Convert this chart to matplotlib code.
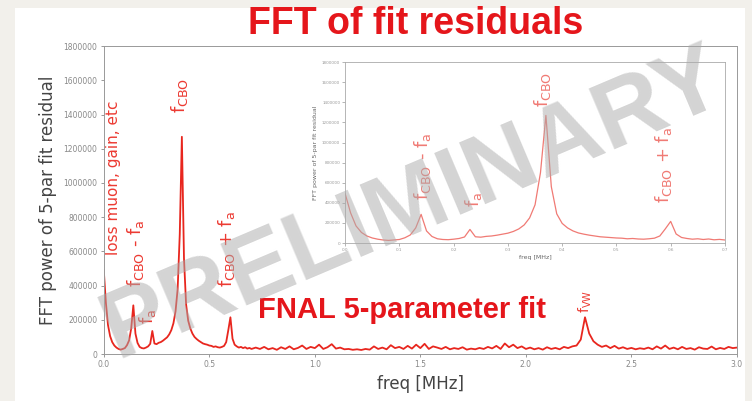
import numpy as np
import matplotlib
matplotlib.use("Agg")
import matplotlib.pyplot as plt
from matplotlib.patches import Rectangle

plt.rcParams["mathtext.default"] = "regular"

# spectrum, 0.00 - 0.70 MHz (step 0.01), power in units of 1000
freq_low = [0.00, 0.01, 0.02, 0.03, 0.04, 0.05, 0.06, 0.07, 0.08, 0.09,
            0.10, 0.11, 0.12, 0.13, 0.14, 0.15, 0.16, 0.17, 0.18, 0.19,
            0.20, 0.21, 0.22, 0.23, 0.24, 0.25, 0.26, 0.27, 0.28, 0.29,
            0.30, 0.31, 0.32, 0.33, 0.34, 0.35, 0.36, 0.37, 0.38, 0.39,
            0.40, 0.41, 0.42, 0.43, 0.44, 0.45, 0.46, 0.47, 0.48, 0.49,
            0.50, 0.51, 0.52, 0.53, 0.54, 0.55, 0.56, 0.57, 0.58, 0.59,
            0.60, 0.61, 0.62, 0.63, 0.64, 0.65, 0.66, 0.67, 0.68, 0.69, 0.70]
power_low = [490, 300, 170, 105, 70, 50, 38, 30, 26, 30,
             35, 52, 80, 150, 285, 120, 65, 42, 35, 33,
             38, 45, 60, 135, 62, 58, 66, 70, 78, 88,
             98, 115, 140, 180, 250, 380, 700, 1270, 560, 290,
             195, 150, 120, 100, 88, 78, 70, 62, 58, 55,
             50, 48, 42, 45, 40, 38, 42, 48, 70, 140,
             215, 90, 55, 45, 38, 42, 35, 40, 32, 36, 30]

# 0.72 - 3.00 MHz (step 0.02)
freq_high = [0.72, 0.74, 0.76, 0.78, 0.80, 0.82, 0.84, 0.86, 0.88, 0.90,
             0.92, 0.94, 0.96, 0.98, 1.00, 1.02, 1.04, 1.06, 1.08, 1.10,
             1.12, 1.14, 1.16, 1.18, 1.20, 1.22, 1.24, 1.26, 1.28, 1.30,
             1.32, 1.34, 1.36, 1.38, 1.40, 1.42, 1.44, 1.46, 1.48, 1.50,
             1.52, 1.54, 1.56, 1.58, 1.60, 1.62, 1.64, 1.66, 1.68, 1.70,
             1.72, 1.74, 1.76, 1.78, 1.80, 1.82, 1.84, 1.86, 1.88, 1.90,
             1.92, 1.94, 1.96, 1.98, 2.00, 2.02, 2.04, 2.06, 2.08, 2.10,
             2.12, 2.14, 2.16, 2.18, 2.20, 2.22, 2.24, 2.26, 2.28, 2.30,
             2.32, 2.34, 2.36, 2.38, 2.40, 2.42, 2.44, 2.46, 2.48, 2.50,
             2.52, 2.54, 2.56, 2.58, 2.60, 2.62, 2.64, 2.66, 2.68, 2.70,
             2.72, 2.74, 2.76, 2.78, 2.80, 2.82, 2.84, 2.86, 2.88, 2.90,
             2.92, 2.94, 2.96, 2.98, 3.00]
power_high = [38, 30, 42, 28, 35, 25, 40, 30, 45, 28,
              36, 50, 30, 42, 35, 55, 30, 40, 58, 32,
              38, 28, 30, 25, 28, 24, 30, 26, 45, 30,
              38, 28, 52, 35, 42, 30, 48, 32, 55, 35,
              60, 30, 45, 38, 30, 42, 28, 35, 30, 40,
              26, 32, 28, 36, 30, 42, 33, 48, 30, 62,
              40, 55, 35, 45, 30, 38, 28, 35, 26, 40,
              30, 36, 28, 42, 35, 45, 50, 85, 215, 120,
              75, 55, 42, 50, 35, 48, 32, 40, 30, 36,
              28, 34, 30, 38, 28, 45, 32, 50, 30, 38,
              28, 42, 30, 35, 26, 40, 32, 30, 44, 28,
              36, 30, 42, 35, 38]

y_ticks = [0, 200000, 400000, 600000, 800000, 1000000, 1200000, 1400000, 1600000, 1800000]
x_ticks = [0.0, 0.5, 1.0, 1.5, 2.0, 2.5, 3.0]
inset_x_ticks = [0.0, 0.1, 0.2, 0.3, 0.4, 0.5, 0.6, 0.7]

# labels on the main plot: (text, freq, power at bottom of text, fontsize)
main_labels = [
    ("loss muon, gain, etc", 0.045, 578000, 11),
    (r"$f_{CBO}$ - $f_a$", 0.152, 395000, 13),
    (r"$f_a$", 0.208, 175000, 13),
    (r"$f_{CBO}$", 0.360, 1408000, 13),
    (r"$f_{CBO}$ + $f_a$", 0.583, 392000, 13),
    (r"$f_{VW}$", 2.28, 240000, 10),
]
inset_labels = [
    (r"$f_{CBO}$ - $f_a$", 0.142, 428000),
    (r"$f_a$", 0.236, 358000),
    (r"$f_{CBO}$", 0.363, 1352000),
    (r"$f_{CBO}$ + $f_a$", 0.586, 398000),
]

freq = np.array(freq_low + freq_high)
power = np.array(power_low + power_high) * 1000

RED = "#e8261e"
LABEL_RED = "#ec3a32"
LIGHT_RED = "#f07a74"

fig = plt.figure(figsize=(7.52, 4.01), dpi=100, facecolor="#f2f0eb")
# white slide panel behind everything
fig.patches.append(Rectangle((15 / 752, 0), 730 / 752, 393 / 401, transform=fig.transFigure,
                             facecolor="white", edgecolor="none", zorder=-5))

ax = fig.add_axes([0.138, 0.117, 0.842, 0.768])
ax.set_zorder(1)
ax.patch.set_alpha(0)
ax.plot(freq, power, color=RED, lw=1.3)
ax.set_xlim(0, 3.0)
ax.set_ylim(0, 1800000)
ax.set_xticks(x_ticks)
ax.set_yticks(y_ticks)
ax.set_xticklabels([f"{t:.1f}" for t in x_ticks])
ax.set_yticklabels([str(t) for t in y_ticks])
ax.tick_params(labelsize=5.5, colors="#888888", length=2.5, width=0.6, pad=2)
for s in ax.spines.values():
    s.set_color("#999999")
    s.set_linewidth(0.7)
ax.set_ylabel("FFT power of 5-par fit residual", fontsize=12, color="#444444", labelpad=5)
ax.set_xlabel("freq [MHz]", fontsize=12, color="#444444", labelpad=4)

for txt, x, y, fs in main_labels:
    ax.text(x, y, txt, rotation=90, color=LABEL_RED, fontsize=fs, ha="center", va="bottom")

# inset zoom on the low-frequency region
axi = fig.add_axes([0.459, 0.394, 0.505, 0.451])
axi.set_zorder(2)
axi.plot(freq, power, color=LIGHT_RED, lw=0.9)
axi.set_xlim(0, 0.7)
axi.set_ylim(0, 1800000)
axi.set_xticks(inset_x_ticks)
axi.set_yticks(y_ticks)
axi.set_xticklabels([f"{t:.1f}" for t in inset_x_ticks])
axi.set_yticklabels([str(t) for t in y_ticks])
axi.tick_params(labelsize=3, colors="#999999", length=2, width=0.5, pad=1.5)
for s in axi.spines.values():
    s.set_color("#aaaaaa")
    s.set_linewidth(0.6)
axi.set_ylabel("FFT power of 5-par fit residual", fontsize=4.5, color="#666666", labelpad=3)
axi.set_xlabel("freq [MHz]", fontsize=4.5, color="#666666", labelpad=2)
for txt, x, y in inset_labels:
    axi.text(x, y, txt, rotation=90, color=LIGHT_RED, fontsize=13, ha="center", va="bottom")

fig.text(0.553, 0.94, "FFT of fit residuals", fontsize=27, fontweight="bold",
         family="Liberation Sans", color="#e5161b", ha="center", va="center", zorder=3)
fig.text(0.535, 0.227, "FNAL 5-parameter fit", fontsize=21, fontweight="bold",
         family="Liberation Sans", color="#e5161b", ha="center", va="center", zorder=3)

# watermark on top
fig.text(0.55, 0.49, "PRELIMINARY", fontsize=70, fontweight="bold", family="Liberation Sans",
         color="#aaaaaa", alpha=0.5, rotation=23, ha="center", va="center", zorder=10)

fig.savefig("out.png", dpi=100, facecolor=fig.get_facecolor())
